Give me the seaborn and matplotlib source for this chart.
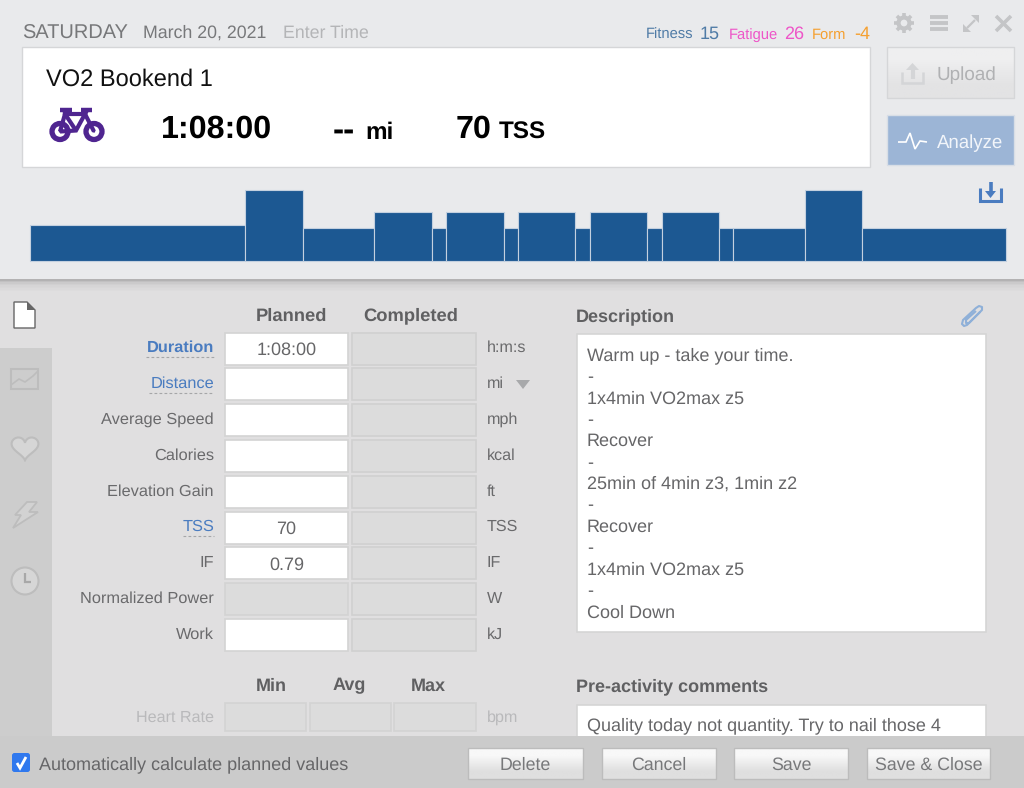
import numpy as np
import matplotlib
matplotlib.use("Agg")
import matplotlib.pyplot as plt
from matplotlib.patches import Rectangle, Circle, Polygon, FancyBboxPatch
import seaborn as sns

# ---- data ----
segment_minutes = [15, 4, 5, 4, 1, 4, 1, 4, 1, 4, 1, 4, 1, 5, 4, 10]
segment_power = [57, 110, 52, 76, 52, 76, 52, 76, 52, 76, 52, 76, 52, 52, 110, 52]
field_labels = ["Duration", "Distance", "Average Speed", "Calories", "Elevation Gain",
                "TSS", "IF", "Normalized Power", "Work"]
field_planned = ["1:08:00", "", "", "", "", "70", "0.79", "", ""]
field_units = ["h:m:s", "mi", "mph", "kcal", "ft", "TSS", "IF", "W", "kJ"]
description_lines = ["Warm up - take your time.", "-", "1x4min VO2max z5", "-", "Recover", "-",
                     "25min of 4min z3, 1min z2", "-", "Recover", "-", "1x4min VO2max z5", "-",
                     "Cool Down"]
button_labels = ["Delete", "Cancel", "Save", "Save & Close"]
metric_names = ["Fitness", "Fatigue", "Form"]
metric_values = ["15", "26", "-4"]

sns.set_theme(style="white")
plt.rcParams["font.family"] = ["Liberation Sans", "DejaVu Sans"]
plt.rcParams["text.hinting"] = "no_hinting"
plt.rcParams["patch.linewidth"] = 0
plt.rcParams["patch.edgecolor"] = "none"

W, H = 1024, 788
fig = plt.figure(figsize=(W / 100, H / 100), dpi=100, facecolor="#e0dfe0")
ui = fig.add_axes([0, 0, 1, 1])
ui.axis("off")


def box(x0, y0, x1, y1, fc, ec="none", lw=1.0, z=1, alpha=None):
    ui.add_patch(Rectangle((x0, y0), x1 - x0, y1 - y0, fc=fc, ec=ec, lw=lw, zorder=z, alpha=alpha))


def grad(x0, y0, x1, y1, top, bottom, ec, z=3, lw=1.0):
    c = np.array([matplotlib.colors.to_rgb(top), matplotlib.colors.to_rgb(bottom)])[:, None, :]
    ui.imshow(c, extent=(x0, x1, y1, y0), aspect="auto", interpolation="bilinear", zorder=z)
    box(x0, y0, x1, y1, "none", ec, lw, z=z + 0.1)


def txt(x, y, s, pt, color="#666668", ha="left", weight="normal"):
    ui.text(x, y - 0.8, s, fontsize=pt, color=color, ha=ha, va="center_baseline", weight=weight, zorder=6)


def line(xs, ys, color, lw=1.5, z=5, ls="-", cap="butt", join="miter"):
    ui.plot(xs, ys, color=color, lw=lw, zorder=z, ls=ls, solid_capstyle=cap, solid_joinstyle=join)


def poly(pts, fc, ec="none", lw=0, z=5):
    ui.add_patch(Polygon(pts, fc=fc, ec=ec, lw=lw, zorder=z))


# panels
box(0, 0, W, 279, "#e9eaec", z=2)
for i, a in enumerate([.32, .22, .15, .10, .07, .05, .03, .02]):
    box(0, 279 + i * 1.5, W, 280.5 + i * 1.5, "#555555", alpha=a, z=2)
box(0, 348, 52, 736, "#cdcdcd", z=1)
box(0, 736, W, H, "#cbcbcb", z=4)

# header
txt(22, 32, "SATURDAY", 14.4, "#77787a")
txt(143, 32, "March 20, 2021", 12.8, "#77787a")
txt(283, 32, "Enter Time", 12.8, "#b4b5b7")
cols = ["#4f7ba6", "#ee55c8", "#f5a030"]
name_x = [646, 729, 812]
val_x = [700, 784, 854]
for n, v, c, nx, vx in zip(metric_names, metric_values, cols, name_x, val_x):
    txt(nx, 34, n, 10.6, c)
    txt(vx, 33, v, 13, c)

# card
box(22, 47, 870, 167, "white", "#d5d6d8", 1.0, z=3)
txt(46, 78, "VO2 Bookend 1", 17.0, "#111111")
txt(161, 127, "1:08:00", 23.2, "#000000", weight="bold")
txt(333, 128.5, "--", 24, "#000000", weight="bold")
txt(365, 131, "mi", 17.5, "#000000", weight="bold")
txt(456, 127, "70", 23.2, "#000000", weight="bold")
txt(499, 131, "TSS", 17.5, "#000000", weight="bold")
# bike icon
P = "#4f2590"
for cx in (60, 94):
    ui.add_patch(Circle((cx, 131.5), 8, fc="none", ec=P, lw=3.8, zorder=5))
    ui.add_patch(Circle((cx, 131.5), 1.2, fc=P, zorder=5))
line([60, 65, 85, 76, 60], [131.5, 114, 114, 130.5, 131.5], P, 3.0)
line([65, 76], [114, 130.5], P, 3.0)
line([85, 94], [114, 131.5], P, 3.0)
line([60, 72], [109.5, 109.5], P, 3.2)
line([81, 92], [109.5, 109.5], P, 3.2)
line([65, 65], [109, 115], P, 3.2)
line([85, 85], [109, 115], P, 3.2)

# toolbar icons
G = "#c4c5c7"
BG = "#e9eaec"
ui.add_patch(Circle((904, 23), 5.5, fc="none", ec=G, lw=3.0, zorder=5))
for a in np.arange(0, np.pi, np.pi / 4):
    dx, dy = 10 * np.cos(a), 10 * np.sin(a)
    line([904 - dx, 904 + dx], [23 - dy, 23 + dy], G, 2.6, z=4)
ui.add_patch(Circle((904, 23), 4, fc=BG, zorder=4.5))
for y in (17, 23, 29):
    line([930, 948], [y, y], G, 2.8)
line([967, 975], [28, 20], G, 1.6)
poly([[963, 24], [963, 32], [971, 32]], G)
poly([[971, 15], [979, 15], [979, 23]], G)
line([996, 1011], [16, 31], G, 2.6)
line([996, 1011], [31, 16], G, 2.6)

# side buttons
grad(887, 47, 1014, 98, "#efeff0", "#e3e3e4", "#d5d6d8")
txt(937, 74, "Upload", 13.6, "#b0b1b3")
U = "#d4d5d7"
line([902, 902, 923, 923], [72, 83, 83, 72], U, 1.8)
line([912.5, 912.5], [79, 66], U, 3)
poly([[906, 70], [912.5, 63], [919, 70]], U)
box(887, 115, 1014, 165, "#9cb5d6", "#d8dee6", 1.0, z=3)
txt(937, 142, "Analyze", 13.4, "#f2f5fa")
line([898, 906, 910, 915, 920, 927], [142, 142, 133, 149, 141, 142], "white", 1.2)
# download icon
D = "#4a7cc0"
line([980, 980, 1001, 1001], [188, 201, 201, 188], D, 2.2)
line([990.5, 990.5], [182, 192], D, 2.6)
poly([[985, 191], [996, 191], [990.5, 198]], D)

# field table
line_h = 35.8
txt(291, 315, "Planned", 13.2, "#606062", ha="center", weight="bold")
txt(411, 315, "Completed", 13.2, "#606062", ha="center", weight="bold")
link = {"Duration", "Distance", "TSS"}
underline = {"Duration": 68, "Distance": 65, "TSS": 31}
white_rows = {0, 1, 2, 3, 4, 5, 6, 8}
for i, (lab, val, unit) in enumerate(zip(field_labels, field_planned, field_units)):
    y = 348.5 + i * line_h
    color = "#4a7cc0" if lab in link else "#6a6a6c"
    wt = "bold" if lab == "Duration" else "normal"
    txt(214, y - 1.2, lab, 11.8, color, ha="right", weight=wt)
    if lab in link:
        line([214 - underline[lab], 214], [y + 8.5, y + 8.5], "#a5a6a8", 0.8, ls=(0, (2.5, 2)))
    fc = "white" if i in white_rows else "#dcdcdc"
    box(225, y - 16, 348, y + 16, fc, "#d3d3d3", 1.2, z=3)
    box(352, y - 16, 476, y + 16, "#dcdcdc", "#d0d0d0", 1.2, z=3)
    if val:
        txt(286.5, y + 0.8, val, 13, "#666668", ha="center")
    txt(487, y - 1.2, unit, 11.6, "#6a6a6c")
poly([[516, 380], [530, 380], [523, 389]], "#a8a9ab")

# heart rate row
for x, s in zip((271, 349, 428), ("Min", "Avg", "Max")):
    txt(x, 685, s, 13, "#606062", ha="center", weight="bold")
txt(214, 717, "Heart Rate", 11.6, "#b9b9bb", ha="right")
for x0, x1 in ((225, 306), (310, 391), (394, 476)):
    box(x0, 703, x1, 731, "#dcdcdc", "#d3d3d3", 1.2, z=3)
txt(487, 717, "bpm", 11.6, "#b9b9bb")

# description
txt(576, 316, "Description", 13, "#606062", weight="bold")
box(577, 334, 986, 632, "white", "#d5d5d5", 1.2, z=3)
for i, s in enumerate(description_lines):
    txt(587, 355 + i * 21.4, s, 13, "#666668")
txt(576, 686, "Pre-activity comments", 13, "#606062", weight="bold")
box(577, 705, 986, 745, "white", "#d5d5d5", 1.2, z=3)
txt(587, 725, "Quality today not quantity. Try to nail those 4", 13, "#666668")
# paperclip
line([980, 967, 964, 962, 963, 976, 979, 982, 982, 969, 966, 966, 976],
     [312, 325, 326, 324, 320, 308, 306, 307, 310, 323, 323, 320, 311],
     "#8fb0d8", 1.5, join="round")

# left tab icons
poly([[14, 302], [27, 302], [35, 310], [35, 328], [14, 328]], "white", "#666666", 1)
poly([[27, 302], [35, 310], [27, 310]], "#666666", z=6)
I = "#bdbdbd"
box(11, 369, 38, 389, "none", I, 1.5, z=5)
line([11, 19, 25, 33, 38], [385, 379, 382, 376, 371], I, 1.2)
t = np.linspace(0, 2 * np.pi, 60)
hx = 16 * np.sin(t) ** 3 * 0.84 + 25
hy = -(13 * np.cos(t) - 5 * np.cos(2 * t) - 2 * np.cos(3 * t) - np.cos(4 * t)) * 0.8 + 447
poly(np.c_[hx, hy], "#d6d6d6", I, 1.5)
poly([[27, 502], [37, 502], [29, 512], [38, 512], [13, 528], [21, 515], [15, 515]], "#d2d2d2", I, 1.3)
ui.add_patch(Circle((25, 581), 13.5, fc="#d6d6d6", ec=I, lw=1.5, zorder=5))
line([25, 25, 31], [573, 582, 582], "#a8a8a8", 1.6)

# bottom bar
ui.add_patch(FancyBboxPatch((13, 754), 16, 17, boxstyle="round,pad=1,rounding_size=2.5",
                            fc="#2f78ee", ec="none", zorder=5))
line([17, 20, 26], [763, 768, 757], "white", 2)
txt(39, 764, "Automatically calculate planned values", 13, "#666668")
for s, (x0, x1) in zip(button_labels, [(468, 583), (602, 716), (734, 848), (867, 990)]):
    grad(x0, 748, x1, 779, "#f8f8f8", "#dfdfdf", "#bcbcbc", z=5)
    txt((x0 + x1) / 2, 764, s, 12.8, "#77787a", ha="center")

ui.set_xlim(0, W)
ui.set_ylim(H, 0)

# ---- workout profile ----
edges = np.concatenate([[0], np.cumsum(segment_minutes)]).tolist()
mids = [(a + b) / 2 for a, b in zip(edges[:-1], edges[1:])]
ax = fig.add_axes([30 / W, 1 - 261.3 / H, 976 / W, 71 / H], zorder=5)
ax.patch.set_alpha(0)
sns.histplot(x=mids, weights=segment_power, bins=edges, ax=ax, color="#1c5892", alpha=1,
             edgecolor="#c3d0df", linewidth=0.8)
ax.set_xlim(edges[0], edges[-1])
ax.set_ylim(0, max(segment_power))
ax.axis("off")
for p in ax.patches:
    p.set_clip_on(False)

fig.savefig("out.png", dpi=100)
